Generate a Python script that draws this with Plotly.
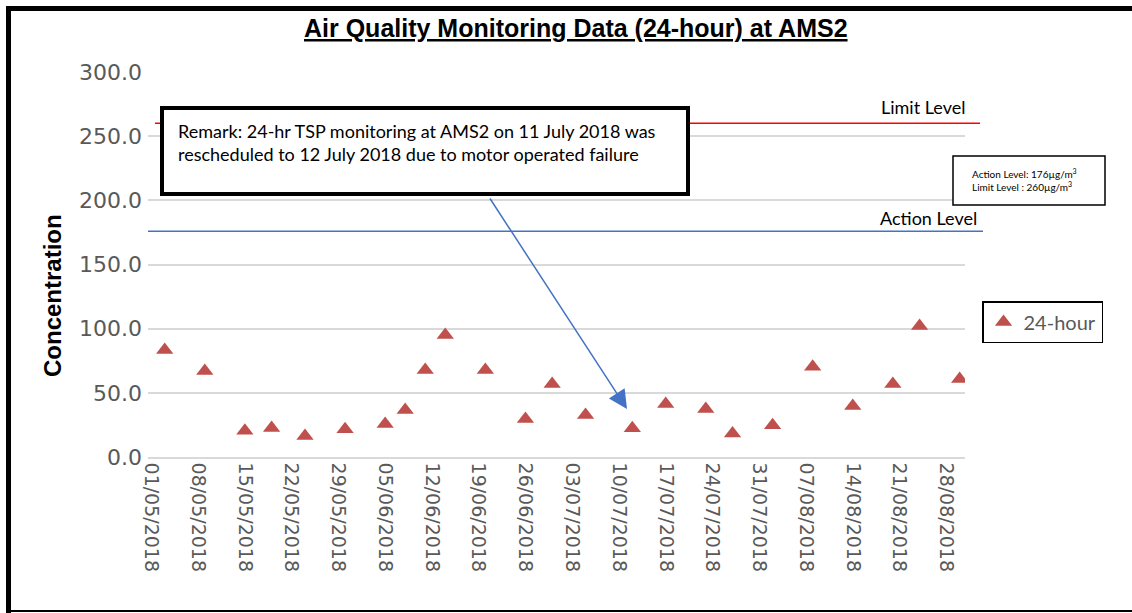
import plotly.graph_objects as go

# ---------------- data ----------------
sample_dates = ['2018-05-03', '2018-05-09', '2018-05-15', '2018-05-19', '2018-05-24',
                '2018-05-30', '2018-06-05', '2018-06-08', '2018-06-11', '2018-06-14',
                '2018-06-20', '2018-06-26', '2018-06-30', '2018-07-05', '2018-07-12',
                '2018-07-17', '2018-07-23', '2018-07-27', '2018-08-02', '2018-08-08',
                '2018-08-14', '2018-08-20', '2018-08-24', '2018-08-30']
tsp_24hr = [83.4, 67.0, 20.5, 22.6, 16.4,
            21.6, 25.7, 36.6, 67.8, 95.0,
            67.8, 29.6, 56.9, 32.7, 22.4,
            41.3, 37.4, 18.4, 24.7, 70.4,
            39.7, 56.9, 102.0, 60.8]

tick_dates = ['2018-05-01', '2018-05-08', '2018-05-15', '2018-05-22', '2018-05-29',
              '2018-06-05', '2018-06-12', '2018-06-19', '2018-06-26', '2018-07-03',
              '2018-07-10', '2018-07-17', '2018-07-24', '2018-07-31', '2018-08-07',
              '2018-08-14', '2018-08-21', '2018-08-28']
tick_labels = ['01/05/2018', '08/05/2018', '15/05/2018', '22/05/2018', '29/05/2018',
               '05/06/2018', '12/06/2018', '19/06/2018', '26/06/2018', '03/07/2018',
               '10/07/2018', '17/07/2018', '24/07/2018', '31/07/2018', '07/08/2018',
               '14/08/2018', '21/08/2018', '28/08/2018']
y_ticks = [0, 50, 100, 150, 200, 250, 300]
y_tick_labels = ['0.0', '50.0', '100.0', '150.0', '200.0', '250.0', '300.0']

action_level = 176
limit_level = 260

# ---------------- figure ----------------
W, H = 1132, 613
L, R, T, B = 148, 965, 72, 457


def px(xpix):
    return (xpix - L) / (R - L)


def py(ypix):
    return (B - ypix) / (B - T)


fig = go.Figure()
fig.add_trace(go.Scatter(
    x=sample_dates, y=tsp_24hr, mode='markers', name='24-hour',
    marker=dict(symbol='triangle-up', size=15, color='#C0504D'),
))

grey = '#595959'
fig.update_layout(
    width=W, height=H,
    margin=dict(l=L, r=W - R, t=T, b=H - B),
    paper_bgcolor='white', plot_bgcolor='white',
    showlegend=True,
    legend=dict(x=px(982), y=py(301), xanchor='left', yanchor='top',
                bordercolor='black', borderwidth=1.5, bgcolor='white',
                font=dict(family='Lato', size=20, color=grey),
                itemwidth=30, tracegroupgap=0),
    xaxis=dict(type='date', range=['2018-04-30 12:00', '2018-08-30 19:12'],
               tickmode='array', tickvals=tick_dates, ticktext=tick_labels,
               tickangle=90, tickfont=dict(family='DejaVu Sans', size=19, color=grey),
               showgrid=False, showline=True, linecolor='#D9D9D9', linewidth=1.5,
               ticks='', zeroline=False),
    yaxis=dict(range=[0, 300], tickmode='array', tickvals=y_ticks, ticktext=y_tick_labels,
               tickfont=dict(family='DejaVu Sans', size=22, color=grey),
               ticklabelstandoff=5,
               showgrid=True, gridcolor='#D9D9D9', gridwidth=1.5,
               zeroline=False, showline=False, ticks=''),
)

shapes = []
# limit & action lines
shapes.append(dict(type='line', xref='paper', yref='y', x0=px(155), x1=px(980),
                   y0=limit_level, y1=limit_level, line=dict(color='#FF0000', width=1.5)))
shapes.append(dict(type='line', xref='paper', yref='y', x0=px(148), x1=px(983),
                   y0=action_level, y1=action_level, line=dict(color='#4472C4', width=1.5)))
# remark box
shapes.append(dict(type='rect', xref='paper', yref='paper', x0=px(162), x1=px(688),
                   y0=py(194), y1=py(108), line=dict(color='black', width=4),
                   fillcolor='white'))
# small level box
shapes.append(dict(type='rect', xref='paper', yref='paper', x0=px(953), x1=px(1105),
                   y0=py(205), y1=py(156), line=dict(color='black', width=1.5),
                   fillcolor='white'))
# outer border
shapes.append(dict(type='line', xref='paper', yref='paper', x0=px(8.5), x1=px(8.5),
                   y0=py(6), y1=py(613), line=dict(color='black', width=5)))
shapes.append(dict(type='line', xref='paper', yref='paper', x0=px(6), x1=px(1132),
                   y0=py(8.5), y1=py(8.5), line=dict(color='black', width=5)))
shapes.append(dict(type='line', xref='paper', yref='paper', x0=px(8), x1=px(1132),
                   y0=py(611), y1=py(611), line=dict(color='black', width=2)))
fig.update_layout(shapes=shapes)

annotations = [
    dict(text='<b><u>Air Quality Monitoring Data (24-hour) at AMS2</u></b>',
         xref='paper', yref='paper', x=px(576), y=py(28), xanchor='center', yanchor='middle',
         showarrow=False, font=dict(family='Liberation Sans', size=25, color='black')),
    dict(text='<b>Concentration</b>', xref='paper', yref='paper', x=px(52), y=py(296),
         xanchor='center', yanchor='middle', textangle=-90, showarrow=False,
         font=dict(family='Liberation Sans', size=24, color='black')),
    dict(text='Remark: 24-hr TSP monitoring at AMS2 on 11 July 2018 was<br>'
              'rescheduled to 12 July 2018 due to motor operated failure',
         xref='paper', yref='paper', x=px(176), y=py(118), xanchor='left', yanchor='top',
         align='left', showarrow=False,
         font=dict(family='Lato', size=18, color='black')),
    dict(text='Limit Level', xref='paper', yref='paper', x=px(923), y=py(107),
         xanchor='center', yanchor='middle',
         showarrow=False, font=dict(family='Lato', size=18, color='black')),
    dict(text='Action Level', xref='paper', yref='paper', x=px(928), y=py(218),
         xanchor='center', yanchor='middle',
         showarrow=False, font=dict(family='Lato', size=18, color='black')),
    dict(text='Action Level: 176µg/m<sup>3</sup><br>Limit Level : 260µg/m<sup>3</sup>',
         xref='paper', yref='paper', x=px(970), y=py(165), xanchor='left', yanchor='top',
         align='left', showarrow=False,
         font=dict(family='Lato', size=10, color='black')),
    dict(text='', xref='paper', yref='paper', x=px(627), y=py(409),
         ax=489 - 627, ay=197 - 409, showarrow=True, arrowhead=2, arrowsize=2.5,
         arrowwidth=1.5, arrowcolor='#4472C4', standoff=0),
]
fig.update_layout(annotations=annotations)

fig.write_html('out.html', config={'displayModeBar': False},
               post_script="document.body.style.margin='0';"
                           "document.body.style.overflow='hidden';")
